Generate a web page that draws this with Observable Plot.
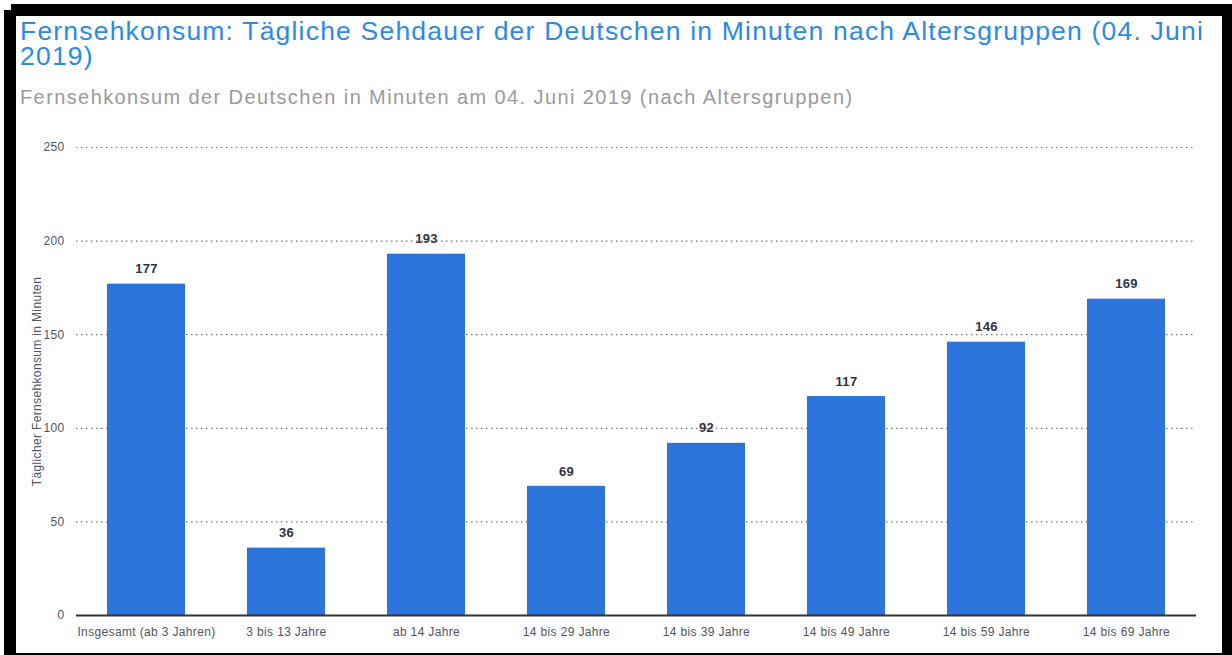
<!DOCTYPE html>
<html><head><meta charset="utf-8">
<script src="https://cdn.jsdelivr.net/npm/d3@7"></script>
<script src="https://cdn.jsdelivr.net/npm/@observablehq/plot@0.6"></script>
<style>
html,body{margin:0;padding:0;background:#fff;width:1232px;height:655px;overflow:hidden;font-family:"Liberation Sans",Arial,sans-serif;}
#frame{position:absolute;left:4px;top:4px;width:1228px;height:651px;background:#000;}
#notch{position:absolute;left:4px;top:4px;width:7px;height:6px;background:#fff;}
#card{position:absolute;left:16px;top:16px;width:1206px;height:637px;background:#fff;}
#title{position:absolute;left:4px;top:3px;width:1195px;font-size:26.5px;line-height:25px;letter-spacing:1.2px;color:#2b8ae4;}
#subtitle{position:absolute;left:4px;top:70px;font-size:20px;letter-spacing:1.4px;color:#9a9a9a;}
#chart{position:absolute;left:0;top:104px;}
#chart svg text{letter-spacing:0.35px;}
</style></head>
<body>
<div id="frame"></div><div id="notch"></div>
<div id="card">
<div id="title">Fernsehkonsum: Tägliche Sehdauer der Deutschen in Minuten nach Altersgruppen (04. Juni 2019)</div>
<div id="subtitle">Fernsehkonsum der Deutschen in Minuten am 04. Juni 2019 (nach Altersgruppen)</div>
<div id="chart"></div>
</div>
<script>
const categories = ["Insgesamt (ab 3 Jahren)","3 bis 13 Jahre","ab 14 Jahre","14 bis 29 Jahre","14 bis 39 Jahre","14 bis 49 Jahre","14 bis 59 Jahre","14 bis 69 Jahre"];
const values = [177,36,193,69,92,117,146,169];
const yTicks = [0,50,100,150,200,250];
const yLabel = "Täglicher Fernsehkonsum in Minuten";
const data = categories.map((c,i)=>({cat:c, v:values[i]}));

const plot = Plot.plot({
  width:1200, height:530,
  marginTop:27, marginBottom:35, marginLeft:60, marginRight:20,
  style:{fontFamily:'"Liberation Sans",Arial,sans-serif', background:"transparent"},
  x:{domain:categories, paddingInner:0.443, paddingOuter:0.2215},
  y:{domain:[0,250]},
  marks:[
    Plot.gridY(yTicks,{stroke:"#777",strokeOpacity:1,strokeDasharray:"1.5,3.5",strokeWidth:1.2}),
    Plot.axisY(yTicks,{tickSize:0,tickPadding:12,fontSize:12,fill:"#4f5563",label:yLabel,labelAnchor:"center",labelOffset:44,labelArrow:false}),
    Plot.axisX({tickSize:0,tickPadding:12,fontSize:12,fill:"#4f5563",label:null}),
    Plot.barY(data,{x:"cat",y:"v",fill:"#2a74db"}),
    Plot.ruleY([0],{stroke:"#333",strokeWidth:2}),
    Plot.text(data,{x:"cat",y:"v",text:d=>String(d.v),dy:-15,fontSize:13,fontWeight:"bold",fill:"#2e3440"})
  ]
});
document.getElementById("chart").appendChild(plot);
</script>
</body></html>
